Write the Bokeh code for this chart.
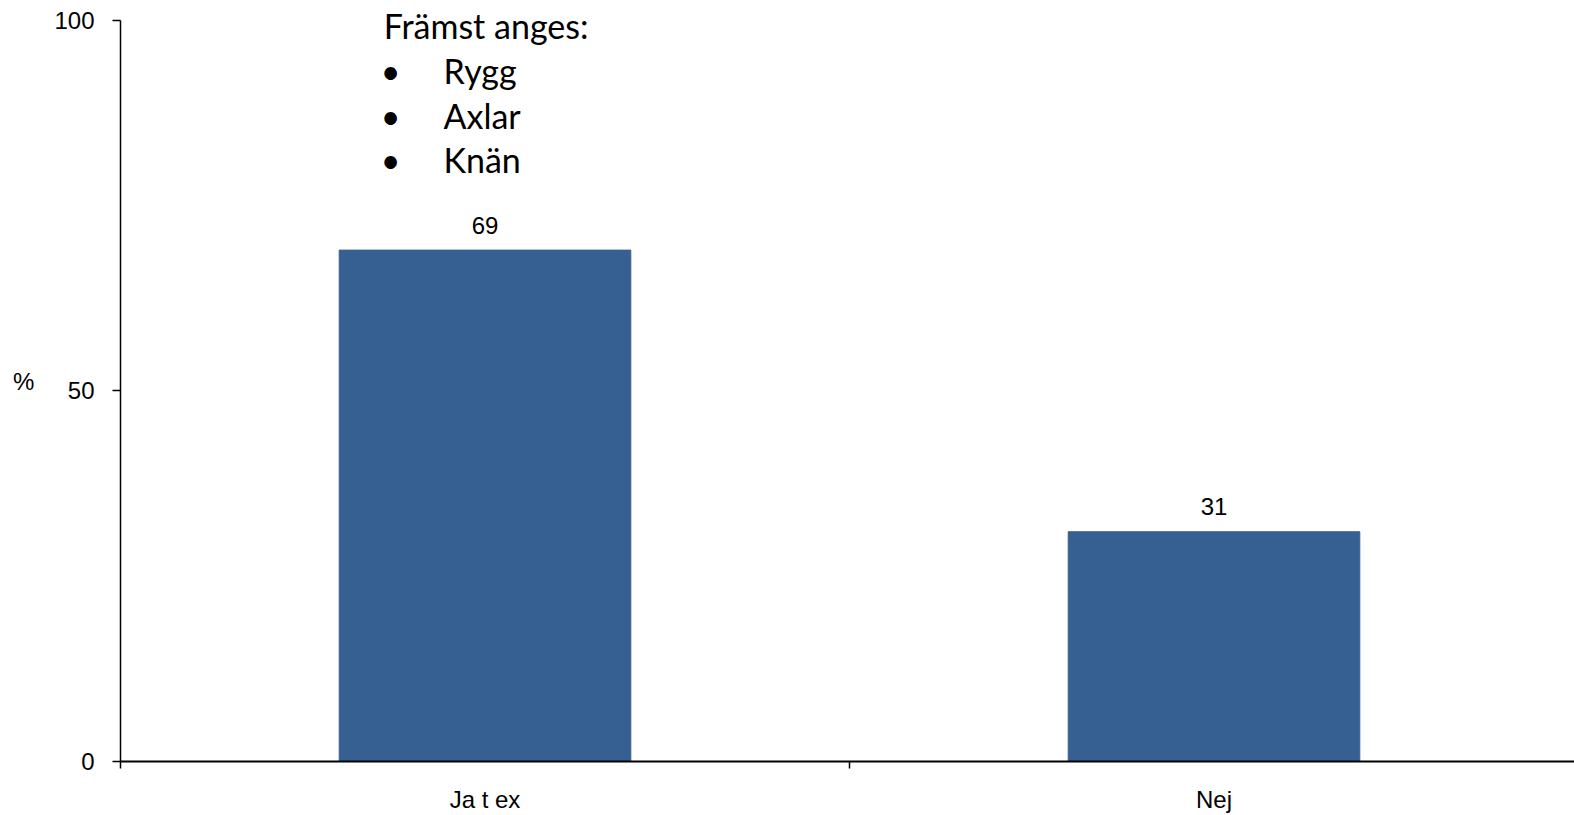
from bokeh.plotting import figure
from bokeh.models import Range1d, FixedTicker, ColumnDataSource, Label
from bokeh.core.properties import value
from bokeh.embed import file_html
from bokeh.resources import INLINE

# ---- data ----
categories = ["Ja t ex", "Nej"]
percent = [69, 31]
y_ticks = [0, 50, 100]
y_label = "%"
note_title = "Främst anges:"
note_items = ["Rygg", "Axlar", "Knän"]

# ---- styling / layout constants ----
BAR_COLOR = "#376092"
FONT = "Liberation Sans"
NOTE_FONT = "Lato"

xs = [i + 0.5 for i in range(len(categories))]
src = ColumnDataSource(dict(x=xs, top=percent, label=[str(v) for v in percent]))

p = figure(width=1574, height=815, output_backend="svg", toolbar_location=None,
           x_range=Range1d(0, 1.9945), y_range=Range1d(0, 102.68),
           min_border_left=120, min_border_right=0, min_border_top=0,
           min_border_bottom=50)
p.outline_line_color = None
p.xgrid.grid_line_color = None
p.ygrid.grid_line_color = None
p.background_fill_color = "white"

p.vbar(x="x", top="top", width=0.4, bottom=0, source=src,
       fill_color=BAR_COLOR, line_color=BAR_COLOR)

p.text(x="x", y="top", text="label", source=src, text_align="center",
       text_baseline="alphabetic", y_offset=-25,
       text_font=value(FONT), text_font_size="24px", text_color="black")

# x axis
xa = p.xaxis[0]
xa.ticker = FixedTicker(ticks=xs, minor_ticks=list(range(len(categories) + 1)))
xa.major_label_overrides = {x: c for x, c in zip(xs, categories)}
xa.major_tick_out = 0
xa.major_tick_in = 0
xa.minor_tick_out = 7
xa.minor_tick_in = 0
xa.minor_tick_line_color = "black"
xa.minor_tick_line_width = 1.5
xa.axis_line_color = "black"
xa.axis_line_width = 2
xa.major_label_text_font = FONT
xa.major_label_text_font_size = "24px"
xa.major_label_text_color = "black"
xa.major_label_standoff = 17

# y axis
ya = p.yaxis[0]
ya.ticker = FixedTicker(ticks=y_ticks, minor_ticks=[])
ya.bounds = (y_ticks[0], y_ticks[-1])
ya.major_tick_out = 8
ya.major_tick_in = 0
ya.major_tick_line_color = "black"
ya.major_tick_line_width = 1.5
ya.axis_line_color = "black"
ya.axis_line_width = 1.5
ya.major_label_text_font = FONT
ya.major_label_text_font_size = "24px"
ya.major_label_text_color = "black"
ya.major_label_standoff = 18
ya.axis_label = y_label
ya.axis_label_orientation = "horizontal"
ya.axis_label_standoff = 17
ya.axis_label_text_font = FONT
ya.axis_label_text_font_size = "24px"
ya.axis_label_text_font_style = "normal"
ya.axis_label_text_color = "black"
ya.axis_label_text_baseline = "top"

# annotation block
NOTE_X = 0.361
BULLET_X = 0.357
ITEM_X = 0.443
NOTE_Y0 = 99.3
STEP = 6.04
NOTE_SIZE = "34px"
p.add_layout(Label(x=NOTE_X, y=NOTE_Y0, text=note_title, text_align="left",
                   text_baseline="alphabetic", text_font=NOTE_FONT,
                   text_font_size=NOTE_SIZE, text_color="black"))
for i, item in enumerate(note_items):
    yy = NOTE_Y0 - STEP * (i + 1)
    p.add_layout(Label(x=BULLET_X, y=yy, text="•", text_align="left",
                       text_baseline="alphabetic", text_font=NOTE_FONT,
                       text_font_size=NOTE_SIZE, text_color="black"))
    p.add_layout(Label(x=ITEM_X, y=yy, text=item, text_align="left",
                       text_baseline="alphabetic", text_font=NOTE_FONT,
                       text_font_size=NOTE_SIZE, text_color="black"))

open("out.html", "w").write(file_html(p, INLINE))
